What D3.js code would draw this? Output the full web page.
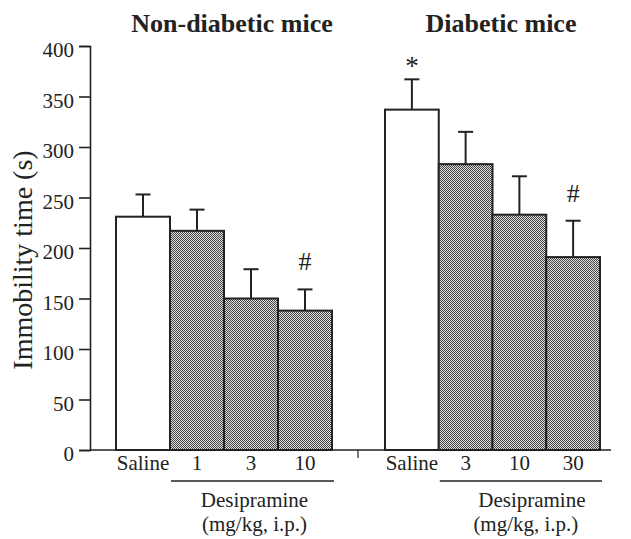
<!DOCTYPE html>
<html><head><meta charset="utf-8">
<script src="https://cdn.jsdelivr.net/npm/d3@7"></script>
<style>body{margin:0;background:#fff}svg{display:block}text{font-family:"Liberation Serif","Times New Roman",serif;fill:#222}</style>
</head><body><svg id="c" width="631" height="539"></svg>
<script>
const groups = ["Non-diabetic mice", "Diabetic mice"];
const catsND = ["Saline", "1", "3", "10"];
const catsD = ["Saline", "3", "10", "30"];
const meansND = [231, 217, 150, 138];
const errND = [22, 21, 29, 21];
const meansD = [337, 283, 233, 191];
const errD = [30, 32, 38, 36];
const marksND = ["", "", "", "#"];
const marksD = ["*", "", "", "#"];
const yTicks = [0, 50, 100, 150, 200, 250, 300, 350, 400];
const drugLabel = ["Desipramine", "(mg/kg, i.p.)"];
const yLabel = "Immobility time (s)";

const svg = d3.select("#c");
const defs = svg.append("defs");
const pat = defs.append("pattern").attr("id","dots").attr("patternUnits","userSpaceOnUse").attr("width",2).attr("height",2);
pat.append("rect").attr("width",2).attr("height",2).attr("fill","#dadada");
pat.append("rect").attr("x",0).attr("y",0).attr("width",1).attr("height",1).attr("fill","#4a4a4a");
pat.append("rect").attr("x",1).attr("y",1).attr("width",1).attr("height",1).attr("fill","#4a4a4a");

const y = d3.scaleLinear().domain([0,400]).range([450,46]);
const axisX0 = 90, axisX1 = 611;

const yAxis = d3.axisLeft(y).tickValues(yTicks).tickSize(11).tickPadding(5);
const gy = svg.append("g").attr("transform",`translate(${axisX0},0)`).call(yAxis);
gy.select(".domain").attr("stroke","#222").attr("stroke-width",1.6);
gy.selectAll(".tick line").attr("stroke","#222").attr("stroke-width",1.6);
gy.selectAll(".tick text").attr("font-size",21).attr("font-family","Liberation Serif").attr("fill","#222").attr("dy","0.5em");

svg.append("line").attr("x1",axisX0).attr("x2",axisX1).attr("y1",y(0)).attr("y2",y(0)).attr("stroke","#222").attr("stroke-width",1.6);
svg.append("line").attr("x1",358).attr("x2",358).attr("y1",y(0)).attr("y2",y(0)+8).attr("stroke","#222").attr("stroke-width",1.2);

svg.append("text").attr("transform",`translate(32,260) rotate(-90)`).attr("text-anchor","middle").attr("font-size",28).text(yLabel);

const panels = [
  {title:groups[0], cats:catsND, means:meansND, errs:errND, marks:marksND, range:[116,332], tx:232, dx:[2,2]},
  {title:groups[1], cats:catsD, means:meansD, errs:errD, marks:marksD, range:[385,600], tx:501, dx:[11,5]}
];

panels.forEach(p => {
  const x = d3.scaleBand().domain(p.cats).range(p.range).padding(0);
  const g = svg.append("g");
  const data = p.cats.map((c,i)=>({c, m:p.means[i], e:p.errs[i], k:p.marks[i], i}));
  g.selectAll(".eb").data(data).join("line")
    .attr("x1",d=>x(d.c)+x.bandwidth()/2).attr("x2",d=>x(d.c)+x.bandwidth()/2)
    .attr("y1",d=>y(d.m)).attr("y2",d=>y(d.m+d.e)).attr("stroke","#222").attr("stroke-width",2);
  g.selectAll(".cap").data(data).join("line")
    .attr("x1",d=>x(d.c)+x.bandwidth()/2-7.5).attr("x2",d=>x(d.c)+x.bandwidth()/2+7.5)
    .attr("y1",d=>y(d.m+d.e)).attr("y2",d=>y(d.m+d.e)).attr("stroke","#222").attr("stroke-width",2);
  g.selectAll(".bar").data(data).join("rect")
    .attr("x",d=>x(d.c)).attr("width",x.bandwidth())
    .attr("y",d=>y(d.m)).attr("height",d=>y(0)-y(d.m))
    .attr("fill",d=>d.i===0?"#fff":"url(#dots)").attr("stroke","#222").attr("stroke-width",2);
  g.selectAll(".mk").data(data.filter(d=>d.k)).join("text")
    .attr("x",d=>x(d.c)+x.bandwidth()/2).attr("y",d=>y(d.m+d.e)-(d.k==="*"?4:19))
    .attr("text-anchor","middle").attr("font-size",d=>d.k==="*"?27:26).text(d=>d.k);
  g.selectAll(".cl").data(data).join("text")
    .attr("x",d=>x(d.c)+x.bandwidth()/2).attr("y",470)
    .attr("text-anchor","middle").attr("font-size",21).text(d=>d.c);
  const x0 = x(p.cats[1])+1, x1 = x(p.cats[3])+x.bandwidth()+2;
  g.append("line").attr("x1",x0).attr("x2",x1).attr("y1",481).attr("y2",481).attr("stroke","#222").attr("stroke-width",1.5);
  const cx = (x0+x1)/2;
  g.append("text").attr("x",cx+p.dx[0]).attr("y",507).attr("text-anchor","middle").attr("font-size",21).text(drugLabel[0]);
  g.append("text").attr("x",cx+p.dx[1]).attr("y",531).attr("text-anchor","middle").attr("font-size",21).text(drugLabel[1]);
  svg.append("text").attr("x",p.tx).attr("y",32).attr("text-anchor","middle").attr("font-size",26).attr("font-weight","bold").text(p.title);
});
</script></body></html>
